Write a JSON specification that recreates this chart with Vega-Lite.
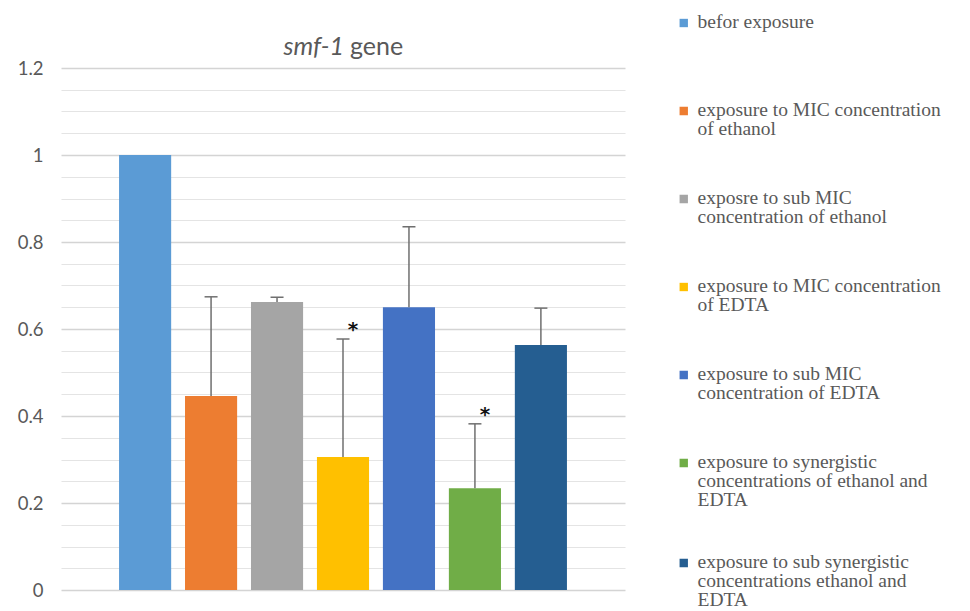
{
  "$schema": "https://vega.github.io/schema/vega-lite/v6.json",
  "width": 564,
  "height": 522,
  "autosize": {"type": "none"},
  "padding": {"left": 61, "top": 68, "right": 345, "bottom": 21},
  "background": "white",
  "config": {"view": {"stroke": null}},
  "data": {
    "values": [
      {"group": "befor exposure", "value": 1.0, "upper": 1.0, "sig": ""},
      {"group": "exposure to MIC concentration|of ethanol", "value": 0.446, "upper": 0.674, "sig": ""},
      {"group": "exposre to sub MIC|concentration of ethanol", "value": 0.662, "upper": 0.673, "sig": ""},
      {"group": "exposure to MIC concentration|of EDTA", "value": 0.306, "upper": 0.577, "sig": "*"},
      {"group": "exposure to sub MIC|concentration of EDTA", "value": 0.65, "upper": 0.835, "sig": ""},
      {"group": "exposure to synergistic|concentrations of ethanol and|EDTA", "value": 0.234, "upper": 0.382, "sig": "*"},
      {"group": "exposure to sub synergistic|concentrations ethanol and|EDTA", "value": 0.563, "upper": 0.648, "sig": ""}
    ]
  },
  "encoding": {
    "x": {
      "field": "group",
      "type": "nominal",
      "sort": null,
      "axis": null,
      "scale": {"paddingInner": 0.21, "paddingOuter": 0.88}
    }
  },
  "layer": [
    {
      "mark": {"type": "bar"},
      "encoding": {
        "y": {
          "field": "value",
          "type": "quantitative",
          "scale": {"domain": [0, 1.2], "nice": false},
          "axis": {
            "title": null,
            "values": [0, 0.05, 0.1, 0.15, 0.2, 0.25, 0.3, 0.35, 0.4, 0.45, 0.5, 0.55, 0.6, 0.65, 0.7, 0.75, 0.8, 0.85, 0.9, 0.95, 1, 1.05, 1.1, 1.15, 1.2],
            "tickCount": 40,
            "labelExpr": "abs(datum.value*5 - round(datum.value*5)) < 0.001 ? format(datum.value, '.1~f') : ''",
            "domain": false,
            "ticks": false,
            "labelPadding": 18,
            "labelFont": "Lato",
            "labelFontSize": 18.5,
            "labelColor": "#595959",
            "labelOverlap": false,
            "gridColor": {"condition": {"test": "abs(datum.value*5 - round(datum.value*5)) < 0.001", "value": "#d4d4d4"}, "value": "#e4e4e4"},
            "gridWidth": {"condition": {"test": "abs(datum.value*5 - round(datum.value*5)) < 0.001", "value": 1.4}, "value": 1.1}
          }
        },
        "color": {
          "field": "group",
          "type": "nominal",
          "sort": null,
          "scale": {
            "domain": [
              "befor exposure",
              "exposure to MIC concentration|of ethanol",
              "exposre to sub MIC|concentration of ethanol",
              "exposure to MIC concentration|of EDTA",
              "exposure to sub MIC|concentration of EDTA",
              "exposure to synergistic|concentrations of ethanol and|EDTA",
              "exposure to sub synergistic|concentrations ethanol and|EDTA"
            ],
            "range": ["#5B9BD5", "#ED7D31", "#A5A5A5", "#FFC000", "#4472C4", "#70AD47", "#255E91"]
          },
          "legend": {
            "title": null,
            "orient": "none",
            "legendX": 613,
            "legendY": -80,
            "symbolType": "square",
            "symbolSize": 70,
            "symbolStrokeWidth": 0,
            "labelFont": "Liberation Serif",
            "labelFontSize": 19.5,
            "labelColor": "#595959",
            "labelLimit": 400,
            "labelOffset": 4,
            "labelBaseline": "top",
            "labelExpr": "split(datum.label, '|')",
            "rowPadding": 18,
            "clipHeight": 70,
            "encode": {"labels": {"update": {"dy": {"value": -10}, "lineHeight": {"value": 19}}}}
          }
        }
      }
    },
    {
      "transform": [{"filter": "datum.upper > datum.value"}],
      "mark": {"type": "rule", "color": "#6f6f6f", "strokeWidth": 1.5},
      "encoding": {
        "y": {"field": "value", "type": "quantitative"},
        "y2": {"field": "upper"}
      }
    },
    {
      "transform": [{"filter": "datum.upper > datum.value"}],
      "mark": {"type": "tick", "color": "#6f6f6f", "thickness": 1.5, "size": 13, "opacity": 1},
      "encoding": {
        "y": {"field": "upper", "type": "quantitative"}
      }
    },
    {
      "transform": [{"filter": "datum.sig != ''"}],
      "mark": {"type": "text", "font": "DejaVu Sans", "fontSize": 20, "fontWeight": "bold", "color": "#111111", "dx": 10, "dy": -9, "baseline": "middle"},
      "encoding": {
        "y": {"field": "upper", "type": "quantitative"},
        "text": {"field": "sig"}
      }
    },
    {
      "data": {"values": [{"t": "smf-1"}]},
      "mark": {"type": "text", "font": "Lato", "fontSize": 25, "fontStyle": "italic", "align": "right", "baseline": "middle", "dx": 1, "dy": -21, "color": "#595959"},
      "encoding": {
        "x": {"datum": "exposure to MIC concentration|of EDTA"},
        "y": {"datum": 1.2, "type": "quantitative"},
        "text": {"field": "t"}
      }
    },
    {
      "data": {"values": [{"t": "gene"}]},
      "mark": {"type": "text", "font": "Lato", "fontSize": 25, "align": "left", "baseline": "middle", "dx": 7, "dy": -21, "color": "#595959"},
      "encoding": {
        "x": {"datum": "exposure to MIC concentration|of EDTA"},
        "y": {"datum": 1.2, "type": "quantitative"},
        "text": {"field": "t"}
      }
    }
  ]
}
